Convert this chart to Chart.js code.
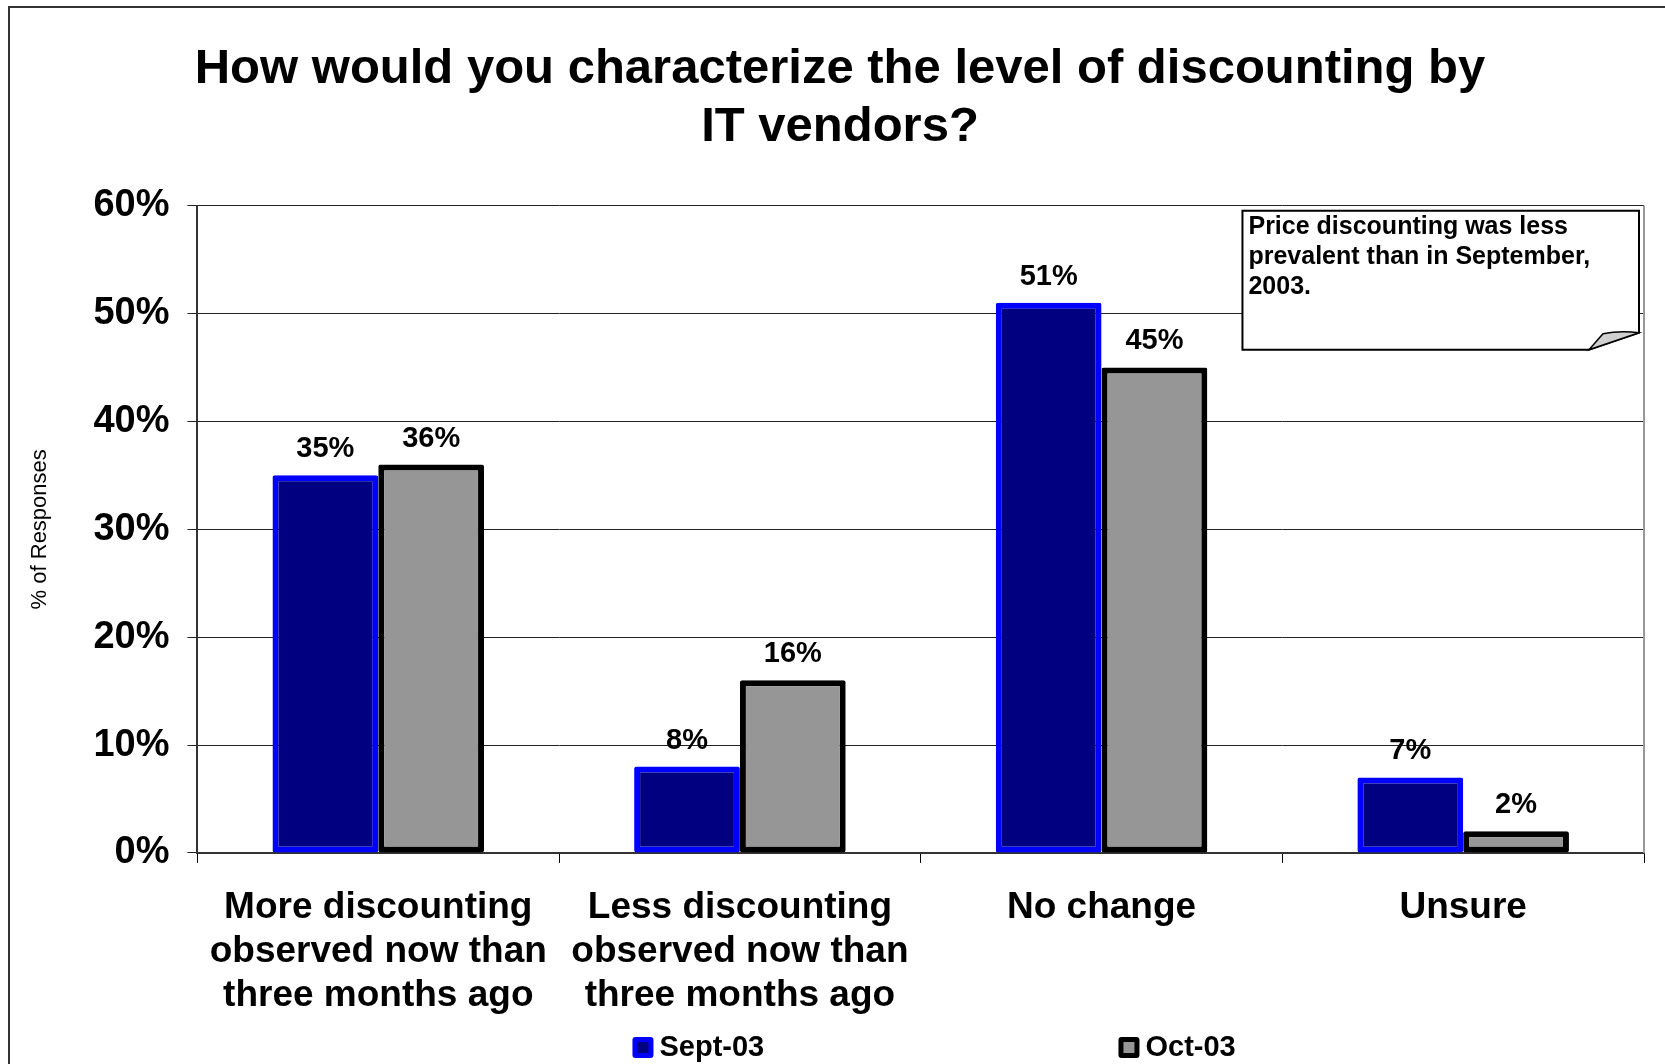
<!DOCTYPE html>
<html>
<head>
<meta charset="utf-8">
<title>IT vendor discounting</title>
<script src="https://cdn.jsdelivr.net/npm/chart.js@4/dist/chart.umd.min.js"></script>
<style>
    html, body { margin: 0; padding: 0; background: #fff; }
    #wrap { width: 1665px; height: 1064px; }
</style>
</head>
<body>
<div id="wrap"><canvas id="discountChart" width="1665" height="1064"></canvas></div>
<script>
// Survey answers and the two survey waves
const categories = [
    ['More discounting', 'observed now than', 'three months ago'],
    ['Less discounting', 'observed now than', 'three months ago'],
    'No change',
    'Unsure'
];
const sept03 = [35, 8, 51, 7];
const oct03 = [36, 16, 45, 2];
const seriesNames = ['Sept-03', 'Oct-03'];
const yTicks = [0, 10, 20, 30, 40, 50, 60];
const noteLines = ['Price discounting was less', 'prevalent than in September,', '2003.'];

const FONT = "'Liberation Sans', Arial, sans-serif";

// Outer frame round the whole chart
const framePlugin = {
    id: 'frame',
    beforeDraw(chart) {
        const c = chart.ctx;
        c.save();
        c.fillStyle = '#fff';
        c.fillRect(0, 0, chart.width, chart.height);
        c.strokeStyle = '#333';
        c.lineWidth = 2;
        c.strokeRect(9, 7, chart.width + 20, chart.height + 20);
        c.restore();
    },
    afterDraw(chart) {
        // grey right edge of the plot area
        const a = chart.chartArea;
        const c = chart.ctx;
        c.save();
        c.strokeStyle = '#999';
        c.lineWidth = 2;
        c.beginPath();
        c.moveTo(a.right, a.top);
        c.lineTo(a.right, a.bottom);
        c.stroke();
        c.restore();
    }
};

// Percent labels above each bar
const valueLabels = {
    id: 'valueLabels',
    afterDatasetsDraw(chart) {
        const c = chart.ctx;
        c.save();
        c.font = 'bold 29px ' + FONT;
        c.fillStyle = '#000';
        c.textAlign = 'center';
        c.textBaseline = 'middle';
        chart.data.datasets.forEach((ds, i) => {
            chart.getDatasetMeta(i).data.forEach((bar, j) => {
                c.fillText(ds.data[j] + '%', bar.x, bar.y - 26);
            });
        });
        c.restore();
    }
};

// Note box with a folded corner in the top right of the plot
const notePlugin = {
    id: 'note',
    afterDraw(chart) {
        const a = chart.chartArea;
        const c = chart.ctx;
        const x0 = a.left + 1045, y0 = a.top + 5;
        const x1 = a.right - 5, y1 = y0 + 139;
        c.save();
        c.lineWidth = 2;
        c.strokeStyle = '#000';
        c.fillStyle = '#fff';
        c.beginPath();
        c.moveTo(x0, y0);
        c.lineTo(x1, y0);
        c.lineTo(x1, y1 - 17);
        c.lineTo(x1 - 50, y1);
        c.lineTo(x0, y1);
        c.closePath();
        c.fill();
        c.stroke();
        // the curled corner
        c.fillStyle = '#d0d0d0';
        c.lineWidth = 1.5;
        c.beginPath();
        c.moveTo(x1 - 50, y1);
        c.lineTo(x1 - 36, y1 - 16);
        c.quadraticCurveTo(x1 - 20, y1 - 19, x1, y1 - 17);
        c.closePath();
        c.fill();
        c.stroke();

        c.fillStyle = '#000';
        c.font = 'bold 25px ' + FONT;
        c.textAlign = 'left';
        c.textBaseline = 'middle';
        noteLines.forEach((t, i) => c.fillText(t, x0 + 6, y0 + 16 + i * 30));
        c.restore();
    }
};

// Legend spread along the bottom
const bottomLegend = {
    id: 'bottomLegend',
    afterDraw(chart) {
        const c = chart.ctx;
        const a = chart.chartArea;
        const y = chart.height - 17;
        const xs = [a.left + 435, a.left + 921];
        c.save();
        c.font = 'bold 29px ' + FONT;
        c.textBaseline = 'middle';
        c.textAlign = 'left';
        chart.data.datasets.forEach((ds, i) => {
            const x = xs[i];
            c.fillStyle = ds.borderColor;
            c.beginPath();
            c.roundRect(x, y - 10, 21, 21, 3);
            c.fill();
            c.fillStyle = ds.backgroundColor;
            c.fillRect(x + 5, y - 5, 11, 11);
            c.fillStyle = '#000';
            c.fillText(ds.label, x + 27, y + 1);
        });
        c.restore();
    }
};

const ctx = document.getElementById('discountChart').getContext('2d');
const discountChart = new Chart(ctx, {
    type: 'bar',
    data: {
        labels: categories,
        datasets: [{
            label: seriesNames[0],
            data: sept03,
            backgroundColor: '#000080',
            borderColor: '#0000ff',
            borderWidth: 6,
            borderRadius: 2,
            borderSkipped: false
        }, {
            label: seriesNames[1],
            data: oct03,
            backgroundColor: '#969696',
            borderColor: '#000000',
            borderWidth: 6,
            borderRadius: 2,
            borderSkipped: false
        }]
    },
    options: {
        responsive: false,
        animation: false,
        devicePixelRatio: 1,
        layout: { padding: { left: 36, right: 21, top: 0, bottom: 23 } },
        datasets: { bar: { categoryPercentage: 0.585, barPercentage: 1 } },
        plugins: {
            legend: { display: false },
            tooltip: { enabled: false },
            title: {
                display: true,
                text: ['How would you characterize the level of discounting by', 'IT vendors?'],
                color: '#000',
                font: { family: FONT, size: 49, weight: 'bold', lineHeight: 1.17 },
                padding: { top: 41, bottom: 50 }
            }
        },
        scales: {
            x: {
                offset: true,
                grid: {
                    offset: true,
                    drawOnChartArea: false,
                    drawTicks: true,
                    tickLength: 10,
                    color: '#000'
                },
                border: { color: '#333', width: 2 },
                ticks: {
                    color: '#000',
                    padding: 23,
                    maxRotation: 0,
                    autoSkip: false,
                    font: { family: FONT, size: 37, weight: 'bold', lineHeight: 1.19 }
                }
            },
            y: {
                min: 0,
                max: 60,
                afterBuildTicks(scale) {
                    scale.ticks = yTicks.map(v => ({ value: v }));
                },
                grid: { color: '#222', lineWidth: 1, tickLength: 10 },
                border: { color: '#333', width: 2 },
                ticks: {
                    color: '#000',
                    padding: 18,
                    font: { family: FONT, size: 38, weight: 'bold' },
                    callback: v => v + '%'
                },
                title: {
                    display: true,
                    text: '% of Responses',
                    color: '#000',
                    font: { family: FONT, size: 22 },
                    padding: { top: -9, bottom: 22 }
                }
            }
        }
    },
    plugins: [framePlugin, valueLabels, notePlugin, bottomLegend]
});
</script>
</body>
</html>
